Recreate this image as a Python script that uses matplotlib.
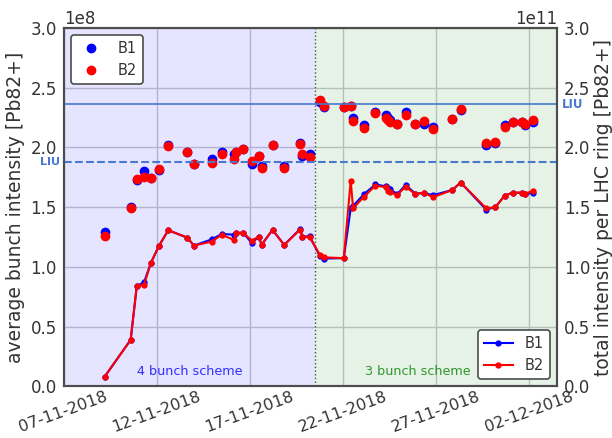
import numpy as np
import pandas as pd
import matplotlib
matplotlib.use("Agg")
import matplotlib.pyplot as plt
import matplotlib.dates as mdates

# fill timestamps (one per fill, same for both beams)
times = pd.to_datetime([
    "2018-11-09 05:00", "2018-11-10 14:24", "2018-11-10 22:19", "2018-11-11 07:41",
    "2018-11-11 16:19", "2018-11-12 02:53", "2018-11-12 14:53", "2018-11-13 15:22",
    "2018-11-14 00:00", "2018-11-14 22:48", "2018-11-15 11:46", "2018-11-16 03:36",
    "2018-11-16 05:46", "2018-11-16 15:36", "2018-11-17 02:24", "2018-11-17 11:46",
    "2018-11-17 15:07", "2018-11-18 05:17", "2018-11-18 20:24", "2018-11-19 16:34",
    "2018-11-19 19:55", "2018-11-20 05:17", "2018-11-20 18:29", "2018-11-20 23:31",
    "2018-11-22 01:12", "2018-11-22 10:05", "2018-11-22 13:12", "2018-11-23 03:22",
    "2018-11-23 18:00", "2018-11-24 07:12", "2018-11-24 09:36", "2018-11-24 12:29",
    "2018-11-24 22:19", "2018-11-25 08:53", "2018-11-25 21:36", "2018-11-26 08:10",
    "2018-11-26 20:10", "2018-11-27 21:07", "2018-11-28 07:55", "2018-11-29 16:48",
    "2018-11-30 04:34", "2018-11-30 16:48", "2018-12-01 03:07", "2018-12-01 15:07",
    "2018-12-01 18:14", "2018-12-02 05:46",
])

# average bunch intensity [1e8 Pb82+]
bunch_b1 = [1.29, 1.50, 1.725, 1.80, 1.742, 1.81, 2.02, 1.965, 1.865, 1.90, 1.96, 1.946,
            1.965, 1.987, 1.862, 1.929, 1.845, 2.021, 1.845, 2.035, 1.93, 1.945, 2.38, 2.335,
            2.336, 2.35, 2.25, 2.19, 2.30, 2.27, 2.25, 2.23, 2.194, 2.30, 2.194, 2.20,
            2.17, 2.238, 2.31, 2.02, 2.04, 2.19, 2.211, 2.211, 2.19, 2.21]
bunch_b2 = [1.262, 1.491, 1.739, 1.756, 1.742, 1.82, 2.013, 1.965, 1.865, 1.873, 1.946, 1.901,
            1.965, 1.987, 1.887, 1.929, 1.826, 2.021, 1.826, 2.027, 1.943, 1.918, 2.397, 2.347,
            2.336, 2.35, 2.224, 2.16, 2.286, 2.244, 2.23, 2.216, 2.194, 2.272, 2.194, 2.222,
            2.155, 2.238, 2.322, 2.035, 2.043, 2.174, 2.211, 2.211, 2.197, 2.23]

# total intensity per ring [1e11 Pb82+]
total_b1 = [0.082, 0.389, 0.841, 0.87, 1.031, 1.176, 1.307, 1.245, 1.178, 1.23, 1.275, 1.27,
            1.282, 1.287, 1.20, 1.254, 1.184, 1.31, 1.184, 1.315, 1.254, 1.255, 1.09, 1.07,
            1.073, 1.49, 1.51, 1.61, 1.69, 1.675, 1.66, 1.65, 1.61, 1.686, 1.612, 1.62,
            1.60, 1.644, 1.706, 1.48, 1.50, 1.597, 1.622, 1.62, 1.611, 1.62]
total_b2 = [0.082, 0.389, 0.841, 0.849, 1.031, 1.176, 1.307, 1.245, 1.178, 1.212, 1.268, 1.226,
            1.282, 1.287, 1.220, 1.254, 1.184, 1.31, 1.184, 1.31, 1.254, 1.248, 1.10, 1.08,
            1.073, 1.722, 1.491, 1.588, 1.681, 1.667, 1.639, 1.625, 1.603, 1.672, 1.608, 1.622,
            1.583, 1.644, 1.706, 1.491, 1.50, 1.597, 1.622, 1.622, 1.611, 1.639]

liu_bunch = 1.875e8
liu_total = 2.36e11
scheme_change = pd.Timestamp("2018-11-20 12:00")
xstart = pd.Timestamp("2018-11-07")
xend = pd.Timestamp("2018-12-03 12:00")

plt.rcParams['font.size'] = 12
plt.rcParams['text.color'] = '0.2'
plt.rcParams['axes.labelcolor'] = '0.2'
plt.rcParams['xtick.color'] = '0.2'
plt.rcParams['ytick.color'] = '0.2'

fig = plt.figure(figsize=(6.12, 4.38), dpi=100)
ax = fig.add_axes([0.104, 0.118, 0.806, 0.818])
ax2 = ax.twinx()

ax.axvspan(xstart, scheme_change, color='b', alpha=0.1, lw=0)
ax.axvspan(scheme_change, xend, color='g', alpha=0.1, lw=0)
ax.axvline(scheme_change, color='0.3', ls=':', lw=1)

ax.plot(times, np.array(bunch_b1) * 1e8, 'o', color='b', ms=6, label='B1')
ax.plot(times, np.array(bunch_b2) * 1e8, 'o', color='r', ms=6, label='B2')
ax.axhline(liu_bunch, color='#4878cf', ls='--', lw=1.5)

ax2.plot(times, np.array(total_b1) * 1e11, '.-', color='b', ms=7, lw=1.5, label='B1')
ax2.plot(times, np.array(total_b2) * 1e11, '.-', color='r', ms=7, lw=1.5, label='B2')
ax2.axhline(liu_total, color='#4878cf', ls='-', lw=1.2)

ax.set_xlim(xstart, xend)
ax.set_ylim(0, 3e8)
ax2.set_ylim(0, 3e11)
ax.set_yticks(np.arange(0, 3.01e8, 0.5e8))
ax2.set_yticks(np.arange(0, 3.01e11, 0.5e11))

ax.xaxis.set_major_locator(mdates.DayLocator(bymonthday=[2, 7, 12, 17, 22, 27]))
ax.xaxis.set_major_formatter(mdates.DateFormatter('%d-%m-%Y'))
for lab in ax.get_xticklabels():
    lab.set_rotation(20)
    lab.set_ha('center')
    lab.set_fontsize(11.5)
ax.tick_params(axis='x', length=0, pad=2)
ax.tick_params(axis='y', length=0, pad=5)
ax2.tick_params(axis='y', length=0, pad=5)

ax.grid(True, color='#c8c8cc', lw=1)
ax.set_axisbelow(True)
for a in (ax, ax2):
    for sp in a.spines.values():
        sp.set_color('0.3')
        sp.set_linewidth(1.5)

ax.set_ylabel('average bunch intensity [Pb82+]', fontsize=13.5, labelpad=4)
ax2.set_ylabel('total intensity per LHC ring [Pb82+]', fontsize=13.5, labelpad=3)

ax.text(-0.007, liu_bunch, 'LIU', transform=ax.get_yaxis_transform(), ha='right', va='center',
        color='#4878cf', fontsize=8, fontweight='bold', clip_on=False)
ax2.text(1.01, liu_total, 'LIU', transform=ax2.get_yaxis_transform(), ha='left', va='center',
         color='#4878cf', fontsize=8.5, fontweight='bold', clip_on=False)

ax.text(pd.Timestamp("2018-11-13 19:00"), 0.12e8, '4 bunch scheme', color='b', fontsize=9.2,
        ha='center', va='center', alpha=0.8)
ax.text(pd.Timestamp("2018-11-26 00:30"), 0.12e8, '3 bunch scheme', color='g', fontsize=9.2,
        ha='center', va='center', alpha=0.8)

leg1 = ax.legend(loc='upper left', fontsize=10.5, framealpha=1, edgecolor='0.3')
leg1.get_frame().set_linewidth(1.2)
leg2 = ax2.legend(loc='lower right', fontsize=10.5, framealpha=1, edgecolor='0.3')
leg2.get_frame().set_linewidth(1.2)

fig.savefig('out.png', dpi=100)
